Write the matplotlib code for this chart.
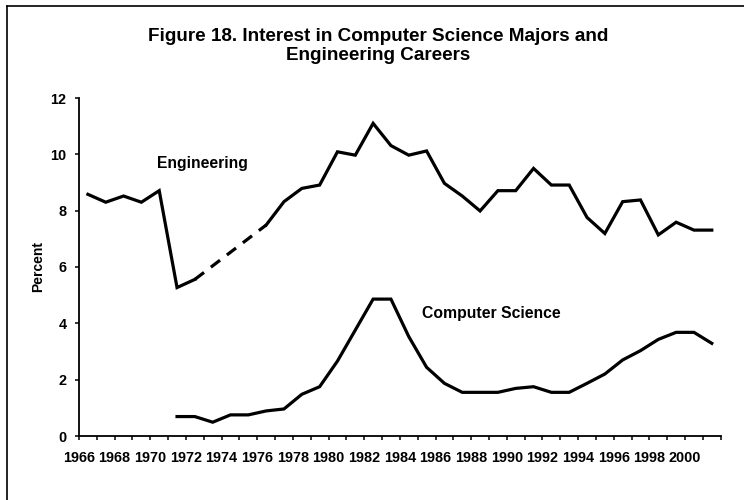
import matplotlib
matplotlib.use("Agg")
import matplotlib.pyplot as plt
import numpy as np

plt.rcParams['font.family'] = ['Liberation Sans', 'DejaVu Sans']

# data (percent of freshmen)
years = list(range(1966, 2002))
engineering = [8.58, 8.30, 8.52, 8.30, 8.71, 5.27, 5.56, None, None, None,
               7.49, 8.32, 8.79, 8.91, 10.09, 9.97, 11.10, 10.31, 9.97, 10.12,
               8.97, 8.52, 7.99, 8.71, 8.71, 9.50, 8.91, 8.91, 7.76, 7.19,
               8.32, 8.38, 7.14, 7.59, 7.31, 7.31]
comp_sci = [None, None, None, None, None, 0.69, 0.69, 0.49, 0.75, 0.75,
            0.89, 0.96, 1.48, 1.75, 2.66, 3.76, 4.86, 4.86, 3.53, 2.44,
            1.87, 1.55, 1.55, 1.55, 1.69, 1.75, 1.55, 1.55, 1.87, 2.20,
            2.70, 3.03, 3.43, 3.68, 3.68, 3.29]
gap_years = [1972, 1976]   # engineering not asked these years -> dashed bridge

title = "Figure 18. Interest in Computer Science Majors and\nEngineering Careers"
ylabel = "Percent"

eng = np.array([np.nan if v is None else v for v in engineering])
cs = np.array([np.nan if v is None else v for v in comp_sci])
yrs = np.array(years)
x = yrs + 0.5  # category centres between tick marks

fig = plt.figure(figsize=(7.44, 5.0), dpi=100)
ax = fig.add_axes([79/744, 64/500, (720.7-79)/744, (436-98)/500])

lw = 2.3
ax.plot(x, eng, color='black', lw=lw, solid_joinstyle='miter')
ax.plot(x, cs, color='black', lw=lw, solid_joinstyle='miter')
gx = [g + 0.5 for g in gap_years]
gy = [eng[years.index(g)] for g in gap_years]
ax.plot(gx, gy, color='black', lw=lw, dashes=(3.6, 2.7))

ax.set_xlim(1966, 2002)
ax.set_ylim(0, 12)
ax.set_yticks(np.arange(0, 13, 2))
ax.set_xticks(np.arange(1966, 2003))
ax.set_xticklabels([str(y) if (y % 2 == 0 and y <= 2000) else '' for y in range(1966, 2003)])

for s in ['top', 'right']:
    ax.spines[s].set_visible(False)
for s in ['left', 'bottom']:
    ax.spines[s].set_linewidth(1.3)

ax.tick_params(axis='both', direction='out', length=3, width=1.1, colors='black')
ax.tick_params(axis='y', pad=6)
ax.tick_params(axis='x', pad=7.5)
for lab in ax.get_xticklabels() + ax.get_yticklabels():
    lab.set_fontweight('bold')
    lab.set_fontsize(10.4)

ax.set_ylabel(ylabel, fontsize=10, fontweight='bold', labelpad=4)

ax.text(1970.39, 9.69, "Engineering", fontsize=11.3, fontweight='bold', va='center', ha='left')
ax.text(1985.23, 4.36, "Computer Science", fontsize=11.3, fontweight='bold', va='center', ha='left')

fig.text(378/744, 1 - 46/500, title, ha='center', va='center', fontsize=13.6,
         fontweight='bold', linespacing=1.2)

# page frame (left and top edges visible in the scan)
fig.add_artist(plt.Line2D([7/744, 7/744], [0, 1 - 6/500], transform=fig.transFigure, color='black', lw=1.2))
fig.add_artist(plt.Line2D([7/744, 1], [1 - 6/500, 1 - 6/500], transform=fig.transFigure, color='black', lw=1.2))

fig.savefig('out.png', dpi=100)
